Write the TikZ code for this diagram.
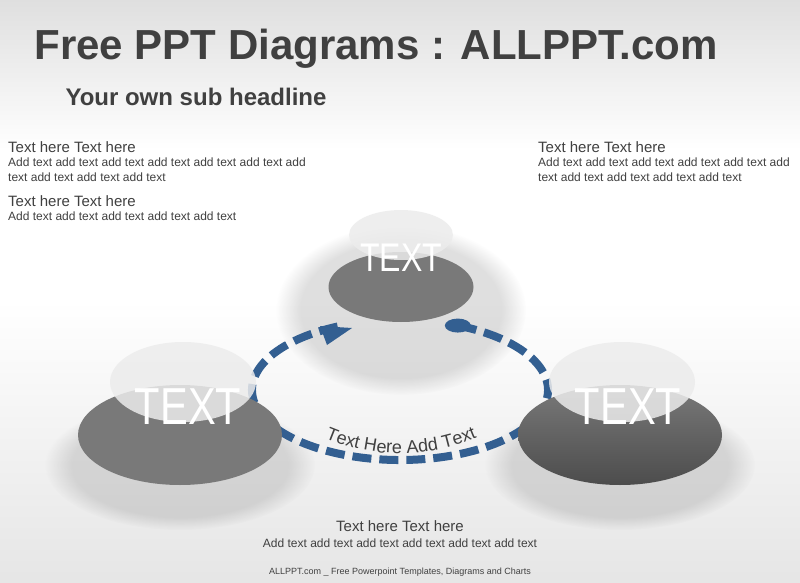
\documentclass[tikz,border=0pt]{standalone}
\usepackage{fontspec}
\setmainfont{Liberation Sans}
\usetikzlibrary{arrows.meta,shapes.geometric,fadings,decorations.text}
\definecolor{ringblue}{HTML}{335F91}
\definecolor{titlegray}{HTML}{404040}
\begin{document}
\begin{tikzpicture}[x=1pt,y=-1pt,
  body/.style={font=\fontsize{12}{15}\selectfont,text=titlegray,anchor=north west,align=left,inner sep=0pt},
  head/.style={font=\fontsize{15}{17}\selectfont,text=titlegray,anchor=north west,inner sep=0pt},
  lite/.style={ellipse,fill=gray!15,opacity=0.85},
  lbl/.style={text=white,xscale=0.8}]
\useasboundingbox (0,0) rectangle (800,583);
\shade[top color=gray!25,bottom color=white,middle color=white] (0,0) rectangle (800,300);
\shade[top color=white,bottom color=gray!20] (0,300) rectangle (800,583);
% soft shadows
\foreach \cx/\cy/\rx/\ry in {401/310/125/85, 180/465/135/65, 620/465/135/65}{
  \fill[gray,opacity=0.25,path fading=circle with fuzzy edge 20 percent] (\cx,\cy) ellipse[x radius=\rx,y radius=\ry];}
\node[font=\fontsize{42}{42}\selectfont\bfseries,text=titlegray,anchor=west] (title) at (31,49) {Free PPT Diagrams : ALLPPT.com};
\node[font=\fontsize{24}{24}\selectfont\bfseries,text=titlegray,anchor=west] (sub) at (62,97) {Your own sub headline};
\node[head] (h1) at (8,141) {Text here Text here};
\node[body] (b1) at (8,158) {Add text add text add text add text add text add text add\\text add text add text add text};
\node[head] (h2) at (8,195) {Text here Text here};
\node[body] (b2) at (8,212) {Add text add text add text add text add text};
\node[head] (h3) at (538,141) {Text here Text here};
\node[body] (b3) at (538,158) {Add text add text add text add text add text add\\text add text add text add text add text};
% ring
\coordinate (rc) at (400,390);
\draw[ringblue,line width=8pt,dash pattern=on 19pt off 8pt] (rc) ++(67:148 and -70) coordinate (rs)
  arc[start angle=67,end angle=-246,x radius=148,y radius=-70] coordinate (re);
\fill[ringblue] (rs) ellipse[x radius=13,y radius=7];
\fill[ringblue] (352,328) -- (320,326) -- (327,345) -- cycle;
% ellipses
\node[ellipse,fill=gray!95!black,minimum width=145,minimum height=70] (top) at (401,287) {};
\node[lite,minimum width=104,minimum height=50] (topl) at (401,235) {};
\node[ellipse,fill=gray!95!black,minimum width=204,minimum height=100] (left) at (180,435) {};
\node[lite,minimum width=146,minimum height=80] (leftl) at (183,382) {};
\node[ellipse,shade,top color=gray!95!black,bottom color=gray!60!black,minimum width=204,minimum height=100] (right) at (620,435) {};
\node[lite,minimum width=146,minimum height=80] (rightl) at (622,382) {};
\node[lbl,font=\fontsize{40}{40}\selectfont] (tt) at (401,258) {TEXT};
\node[lbl,font=\fontsize{52}{52}\selectfont] (tl) at (188,407) {TEXT};
\node[lbl,font=\fontsize{52}{52}\selectfont] (tr) at (628,407) {TEXT};
\path[decorate,decoration={text along path,text align=center,
  text={|\fontsize{18}{18}\selectfont\color{titlegray}|Text Here Add Text}}]
  (305,428) .. controls (365,462) and (435,462) .. (497,428);
\node[font=\fontsize{15}{17}\selectfont,text=titlegray] (h4) at (400,526) {Text here Text here};
\node[font=\fontsize{12}{14}\selectfont,text=titlegray] (b4) at (400,543) {Add text add text add text add text add text add text};
\node[font=\fontsize{9}{10}\selectfont,text=titlegray] (foot) at (400,572) {ALLPPT.com \_ Free Powerpoint Templates, Diagrams and Charts};
\end{tikzpicture}
\end{document}
